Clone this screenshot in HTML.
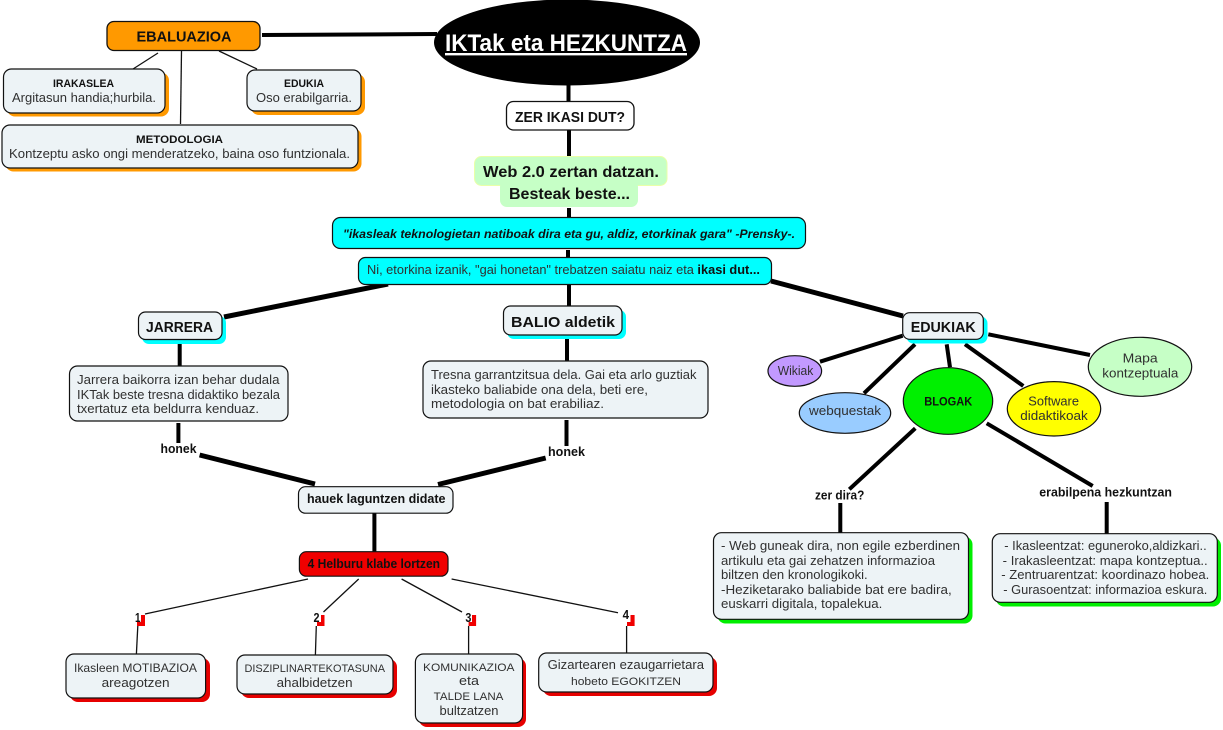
<!DOCTYPE html>
<html><head><meta charset="utf-8"><title>IKTak eta HEZKUNTZA</title>
<style>
html,body{margin:0;padding:0;background:#fff;width:1223px;height:730px;overflow:hidden}
svg{display:block}
text{font-family:"Liberation Sans",sans-serif;font-size:12.5px;fill:#303030}
.b{font-weight:bold;fill:#111}
.s{font-size:11px}
.box{fill:#edf3f6;stroke:#111;stroke-width:1.2}
.l1{stroke:#111;stroke-width:1.3;fill:none}
.l4{stroke:#000;stroke-width:4;fill:none}
.l5{stroke:#000;stroke-width:5;fill:none}
.e{stroke:#111;stroke-width:1.2}
</style></head><body>
<svg width="1223" height="730" viewBox="0 0 1223 730" xmlns="http://www.w3.org/2000/svg">
<!-- connectors -->
<g>
<line class="l1" x1="158" y1="53" x2="133" y2="69"/>
<line class="l1" x1="181.5" y1="51" x2="180.5" y2="124"/>
<line class="l1" x1="219" y1="51" x2="257" y2="69"/>
<line class="l4" x1="262" y1="35" x2="437" y2="34"/>
<line class="l4" x1="568.5" y1="84" x2="568.5" y2="102"/>
<line class="l4" x1="569" y1="130" x2="569" y2="157"/>
<line class="l4" x1="569" y1="208" x2="569" y2="218"/>
<line class="l4" x1="568" y1="250" x2="568" y2="258"/>
<line class="l4" x1="569" y1="285" x2="569" y2="307"/>
<line class="l5" x1="224" y1="317" x2="388" y2="284"/>
<line class="l5" x1="771" y1="281" x2="903" y2="316"/>
<line class="l4" x1="179.7" y1="344" x2="179.7" y2="366"/>
<line class="l4" x1="567" y1="339" x2="567" y2="362"/>
<line class="l4" x1="178.4" y1="423" x2="178.4" y2="443"/>
<line class="l4" x1="566.5" y1="420" x2="566.5" y2="446"/>
<line class="l5" x1="199.6" y1="455" x2="315" y2="484"/>
<line class="l5" x1="545.7" y1="458" x2="438" y2="484.5"/>
<line class="l4" x1="374.4" y1="513" x2="374.4" y2="552"/>
<line class="l1" x1="308" y1="579" x2="145" y2="614"/>
<line class="l1" x1="137.8" y1="626" x2="136.4" y2="654"/>
<line class="l1" x1="358.7" y1="579" x2="323.5" y2="612"/>
<line class="l1" x1="316.3" y1="626" x2="315.4" y2="655"/>
<line class="l1" x1="401.6" y1="579" x2="462" y2="612"/>
<line class="l1" x1="468.6" y1="626" x2="468.6" y2="654"/>
<line class="l1" x1="451.6" y1="579" x2="618" y2="612.7"/>
<line class="l1" x1="626.6" y1="626" x2="626.6" y2="653"/>
<line class="l4" x1="820" y1="361.7" x2="902.7" y2="335.7"/>
<line class="l4" x1="864" y1="393.3" x2="915" y2="344.3"/>
<line class="l4" x1="950" y1="367.3" x2="946.7" y2="344.3"/>
<line class="l4" x1="1023.3" y1="386" x2="965" y2="344.3"/>
<line class="l4" x1="1090" y1="355" x2="988.3" y2="334.3"/>
<line class="l4" x1="915.3" y1="428.3" x2="849.3" y2="489.3"/>
<line class="l4" x1="986.7" y1="423.3" x2="1092.7" y2="486"/>
<line class="l4" x1="840.3" y1="503" x2="840.3" y2="533"/>
<line class="l4" x1="1106.7" y1="502" x2="1106.7" y2="534"/>
</g>
<!-- shadows -->
<g>
<rect x="7" y="72.5" width="162" height="44" rx="8" fill="#ff9900"/>
<rect x="251" y="74" width="114" height="41" rx="8" fill="#ff9900"/>
<rect x="5.5" y="128.5" width="356" height="43" rx="8" fill="#ff9900"/>
<rect x="142" y="316" width="84" height="28" rx="7" fill="#00ffff"/>
<rect x="507" y="310" width="119" height="29" rx="7" fill="#00ffff"/>
<rect x="906.5" y="316.5" width="81" height="27" rx="7" fill="#00ffff"/>
<rect x="70" y="658" width="140" height="44" rx="8" fill="#e60000"/>
<rect x="241" y="659" width="156" height="39" rx="8" fill="#e60000"/>
<rect x="419" y="658" width="107" height="69" rx="8" fill="#e60000"/>
<rect x="543" y="657" width="174" height="39" rx="8" fill="#e60000"/>
<rect x="717.5" y="536.5" width="255" height="87" rx="8" fill="#00ee00"/>
<rect x="996" y="537.5" width="225" height="69" rx="8" fill="#00ee00"/>
<rect x="137" y="615" width="8" height="11" fill="#f00000"/>
<rect x="317" y="615" width="7.5" height="11" fill="#f00000"/>
<rect x="468.6" y="615" width="7.5" height="11" fill="#f00000"/>
<rect x="627" y="615" width="7.6" height="11" fill="#f00000"/>
<rect x="132" y="611" width="9" height="11" fill="#fff"/>
<rect x="312" y="611" width="9" height="11" fill="#fff"/>
<rect x="463" y="611" width="9" height="11" fill="#fff"/>
<rect x="621" y="611" width="9.5" height="11" fill="#fff"/>
</g>
<!-- nodes -->
<ellipse cx="567" cy="42.5" rx="133" ry="43" fill="#000"/>
<text x="445" y="51" textLength="242" lengthAdjust="spacingAndGlyphs" text-decoration="underline" style="font-size:24px;font-weight:bold;fill:#fff">IKTak eta HEZKUNTZA</text>

<rect x="107" y="21.5" width="153" height="29" rx="7" fill="#ff9900" stroke="#111" stroke-width="1.3"/>
<text class="b" x="136.5" y="41.5" textLength="95" lengthAdjust="spacingAndGlyphs" style="font-size:15px">EBALUAZIOA</text>

<rect class="box" x="3.5" y="69" width="161.5" height="44" rx="8"/>
<text class="b s" x="53" y="87" textLength="61" lengthAdjust="spacingAndGlyphs">IRAKASLEA</text>
<text x="12" y="102" textLength="144" lengthAdjust="spacingAndGlyphs">Argitasun handia;hurbila.</text>

<rect class="box" x="247" y="70" width="114" height="41" rx="8"/>
<text class="b s" x="284" y="87" textLength="40" lengthAdjust="spacingAndGlyphs">EDUKIA</text>
<text x="256" y="102" textLength="96" lengthAdjust="spacingAndGlyphs">Oso erabilgarria.</text>

<rect class="box" x="2" y="125" width="356" height="43" rx="8"/>
<text class="b s" x="136" y="143" textLength="87" lengthAdjust="spacingAndGlyphs">METODOLOGIA</text>
<text x="9" y="158" textLength="341" lengthAdjust="spacingAndGlyphs">Kontzeptu asko ongi menderatzeko, baina oso funtzionala.</text>

<rect x="506.5" y="101.5" width="127.5" height="28.5" rx="7" fill="#fff" stroke="#111" stroke-width="1.3"/>
<text class="b" x="515" y="122" textLength="110" lengthAdjust="spacingAndGlyphs" style="font-size:15px">ZER IKASI DUT?</text>

<rect x="474.5" y="156.5" width="192.5" height="29" rx="7" fill="#c6ffc6" stroke="#eaffa8" stroke-width="1"/>
<rect x="500" y="180" width="138" height="27" rx="7" fill="#c6ffc6"/>
<text class="b" x="483" y="177" textLength="176" lengthAdjust="spacingAndGlyphs" style="font-size:16px">Web 2.0 zertan datzan.</text>
<text class="b" x="509" y="199" textLength="121" lengthAdjust="spacingAndGlyphs" style="font-size:16px">Besteak beste...</text>

<rect x="332.5" y="217.5" width="473" height="31" rx="8" fill="#00ffff" stroke="#111" stroke-width="1.2"/>
<text class="b" x="343" y="238" textLength="452" lengthAdjust="spacingAndGlyphs" style="font-size:12px;font-style:italic">"ikasleak teknologietan natiboak dira eta gu, aldiz, etorkinak gara" -Prensky-.</text>

<rect x="358.5" y="257.5" width="413" height="27" rx="7" fill="#00ffff" stroke="#111" stroke-width="1.2"/>
<text x="367" y="274" textLength="393" lengthAdjust="spacingAndGlyphs">Ni, etorkina izanik, "gai honetan" trebatzen saiatu naiz eta <tspan class="b">ikasi dut...</tspan></text>

<rect class="box" x="138.5" y="312" width="83.5" height="27.5" rx="7"/>
<text class="b" x="146" y="332" textLength="67" lengthAdjust="spacingAndGlyphs" style="font-size:15px">JARRERA</text>

<rect class="box" x="503.5" y="306" width="118.5" height="29" rx="7"/>
<text class="b" x="511" y="327" textLength="104" lengthAdjust="spacingAndGlyphs" style="font-size:15px">BALIO aldetik</text>

<rect class="box" x="902.7" y="312.7" width="80.6" height="26.6" rx="7"/>
<text class="b" x="910.7" y="332" textLength="65" lengthAdjust="spacingAndGlyphs" style="font-size:15px">EDUKIAK</text>

<rect class="box" x="69.5" y="366" width="218.5" height="55" rx="8"/>
<text x="77" y="384" textLength="202.5" lengthAdjust="spacingAndGlyphs">Jarrera baikorra izan behar dudala</text>
<text x="77" y="399" textLength="203" lengthAdjust="spacingAndGlyphs">IKTak beste tresna didaktiko bezala</text>
<text x="77" y="413" textLength="182" lengthAdjust="spacingAndGlyphs">txertatuz eta beldurra kenduaz.</text>

<rect class="box" x="423" y="361" width="285" height="57" rx="8"/>
<text x="431" y="379" textLength="265.5" lengthAdjust="spacingAndGlyphs">Tresna garrantzitsua dela. Gai eta arlo guztiak</text>
<text x="431" y="394" textLength="217" lengthAdjust="spacingAndGlyphs">ikasteko baliabide ona dela, beti ere,</text>
<text x="431" y="408" textLength="173" lengthAdjust="spacingAndGlyphs">metodologia on bat erabiliaz.</text>

<text class="b" x="160.5" y="453" textLength="36" lengthAdjust="spacingAndGlyphs">honek</text>
<text class="b" x="548" y="456" textLength="37" lengthAdjust="spacingAndGlyphs">honek</text>

<rect class="box" x="298.5" y="486.7" width="154.5" height="26.5" rx="7"/>
<text class="b" x="307" y="503" textLength="138.5" lengthAdjust="spacingAndGlyphs">hauek laguntzen didate</text>

<rect x="299.4" y="551.7" width="148.6" height="24.5" rx="7" fill="#f00000" stroke="#111" stroke-width="1.2"/>
<text class="b" x="307.6" y="568" textLength="132.4" lengthAdjust="spacingAndGlyphs">4 Helburu klabe lortzen</text>

<text class="b" x="135" y="622" textLength="5.5" lengthAdjust="spacingAndGlyphs">1</text>
<text class="b" x="313.5" y="622" textLength="6" lengthAdjust="spacingAndGlyphs">2</text>
<text class="b" x="465.4" y="622" textLength="6" lengthAdjust="spacingAndGlyphs">3</text>
<text class="b" x="622.6" y="619" textLength="6.4" lengthAdjust="spacingAndGlyphs">4</text>

<rect class="box" x="66" y="654" width="139.6" height="44" rx="8"/>
<text x="74" y="672" textLength="123" lengthAdjust="spacingAndGlyphs" style="font-size:12px">Ikasleen MOTIBAZIOA</text>
<text x="101.6" y="687" textLength="68" lengthAdjust="spacingAndGlyphs">areagotzen</text>

<rect class="box" x="237" y="655" width="156" height="39" rx="8"/>
<text class="s" x="244.5" y="672" textLength="140.5" lengthAdjust="spacingAndGlyphs">DISZIPLINARTEKOTASUNA</text>
<text x="276.6" y="687" textLength="76" lengthAdjust="spacingAndGlyphs">ahalbidetzen</text>

<rect class="box" x="415.4" y="654" width="107.2" height="69" rx="8"/>
<text class="s" x="423" y="671" textLength="91.5" lengthAdjust="spacingAndGlyphs">KOMUNIKAZIOA</text>
<text x="459" y="685" textLength="20" lengthAdjust="spacingAndGlyphs">eta</text>
<text class="s" x="433.7" y="700" textLength="69.7" lengthAdjust="spacingAndGlyphs">TALDE LANA</text>
<text x="439.5" y="715" textLength="59" lengthAdjust="spacingAndGlyphs">bultzatzen</text>

<rect class="box" x="538.7" y="653" width="174.3" height="39" rx="8"/>
<text x="547.6" y="669" textLength="156.4" lengthAdjust="spacingAndGlyphs">Gizartearen ezaugarrietara</text>
<text class="s" x="571" y="685" textLength="110" lengthAdjust="spacingAndGlyphs">hobeto EGOKITZEN</text>

<ellipse class="e" cx="794.8" cy="371" rx="26.8" ry="15.3" fill="#c299ff"/>
<text x="777.7" y="375" textLength="35.6" lengthAdjust="spacingAndGlyphs">Wikiak</text>
<ellipse class="e" cx="845" cy="413" rx="45.7" ry="20.3" fill="#99ccff"/>
<text x="809" y="415" textLength="72" lengthAdjust="spacingAndGlyphs">webquestak</text>
<ellipse class="e" cx="948" cy="401" rx="44.7" ry="33.3" fill="#00f000"/>
<text class="b" x="924.3" y="405.7" textLength="48" lengthAdjust="spacingAndGlyphs" style="font-size:11.5px">BLOGAK</text>
<ellipse class="e" cx="1054" cy="408.8" rx="46.7" ry="27.2" fill="#ffff00"/>
<text x="1028.3" y="405.7" textLength="50.7" lengthAdjust="spacingAndGlyphs">Software</text>
<text x="1020.3" y="420" textLength="67.4" lengthAdjust="spacingAndGlyphs">didaktikoak</text>
<ellipse class="e" cx="1140" cy="366.8" rx="51.7" ry="29.5" fill="#c6ffc6"/>
<text x="1122.7" y="362.7" textLength="35" lengthAdjust="spacingAndGlyphs">Mapa</text>
<text x="1102.3" y="377.3" textLength="76" lengthAdjust="spacingAndGlyphs">kontzeptuala</text>

<text class="b" x="815" y="499.3" textLength="49.3" lengthAdjust="spacingAndGlyphs">zer dira?</text>
<text class="b" x="1039.3" y="496.7" textLength="132.7" lengthAdjust="spacingAndGlyphs">erabilpena hezkuntzan</text>

<rect class="box" x="713.5" y="532.7" width="255" height="86.6" rx="8"/>
<text x="721" y="550" textLength="239" lengthAdjust="spacingAndGlyphs">- Web guneak dira, non egile ezberdinen</text>
<text x="721" y="565" textLength="214" lengthAdjust="spacingAndGlyphs">artikulu eta gai zehatzen informazioa</text>
<text x="721" y="579" textLength="146.7" lengthAdjust="spacingAndGlyphs">biltzen den kronologikoki.</text>
<text x="721" y="594" textLength="230.7" lengthAdjust="spacingAndGlyphs">-Heziketarako baliabide bat ere badira,</text>
<text x="721" y="608" textLength="161.3" lengthAdjust="spacingAndGlyphs">euskarri digitala, topalekua.</text>

<rect class="box" x="992.3" y="533.7" width="225" height="68.6" rx="8"/>
<text x="1004.3" y="550" textLength="202.4" lengthAdjust="spacingAndGlyphs">- Ikasleentzat: eguneroko,aldizkari..</text>
<text x="1002.7" y="565" textLength="205" lengthAdjust="spacingAndGlyphs">- Irakasleentzat: mapa kontzeptua..</text>
<text x="1001.3" y="579" textLength="208" lengthAdjust="spacingAndGlyphs">- Zentruarentzat: koordinazo hobea.</text>
<text x="1003.3" y="594" textLength="204" lengthAdjust="spacingAndGlyphs">- Gurasoentzat: informazioa eskura.</text>
</svg>
</body></html>
